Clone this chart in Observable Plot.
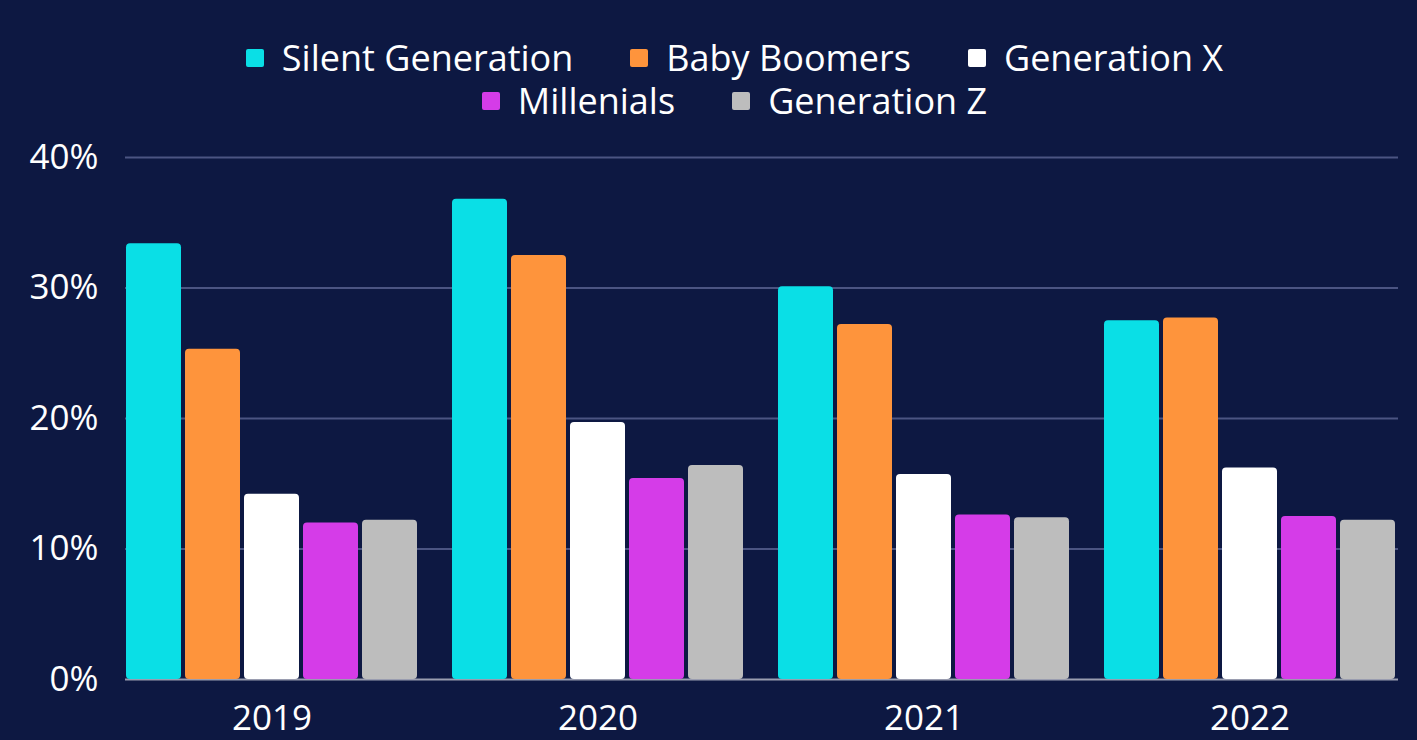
<!DOCTYPE html>
<html><head><meta charset="utf-8">
<script src="https://cdn.jsdelivr.net/npm/d3@7"></script>
<script src="https://cdn.jsdelivr.net/npm/@observablehq/plot@0.6"></script>
<style>
body{margin:0;background:#0d1842;width:1417px;height:740px;overflow:hidden;font-family:"Open Sans",sans-serif;}
#legend{height:130px;box-sizing:border-box;padding-top:36px;padding-left:52px;}
.row{display:flex;justify-content:center;gap:57px;height:43px;align-items:center;}
.item{display:flex;align-items:center;color:#fff;font-size:36px;line-height:43px;}
.sw{width:18px;height:18px;border-radius:2px;margin-right:18px;flex:none;}
#chart svg{display:block;}
</style></head>
<body><div id="legend"></div><div id="chart"></div>
<script>
const years = ["2019", "2020", "2021", "2022"];
const generations = ["Silent Generation", "Baby Boomers", "Generation X", "Millenials", "Generation Z"];
const colors = ["#0adfe6", "#fe943c", "#ffffff", "#d53ce8", "#bdbdbd"];
const silentGeneration = [33.4, 36.8, 30.1, 27.5];
const babyBoomers = [25.3, 32.5, 27.2, 27.7];
const generationX = [14.2, 19.7, 15.7, 16.2];
const millenials = [12.0, 15.4, 12.6, 12.5];
const generationZ = [12.2, 16.4, 12.4, 12.2];
const yTicks = [0, 10, 20, 30, 40];

const series = [silentGeneration, babyBoomers, generationX, millenials, generationZ];
const data = [];
years.forEach((year, i) => generations.forEach((gen, j) => data.push({year, gen, value: series[j][i]})));

// legend
const legendRows = [generations.slice(0, 3), generations.slice(3)];
const legend = document.getElementById("legend");
legendRows.forEach(row => {
  const r = document.createElement("div"); r.className = "row";
  row.forEach(g => {
    const it = document.createElement("div"); it.className = "item";
    const sw = document.createElement("span"); sw.className = "sw";
    sw.style.background = colors[generations.indexOf(g)];
    it.appendChild(sw); it.appendChild(document.createTextNode(g));
    r.appendChild(it);
  });
  legend.appendChild(r);
});

const W = 1417, ML = 124, MR = 20;
const chart = Plot.plot({
  width: W, height: 610, marginTop: 27, marginBottom: 61, marginLeft: ML, marginRight: MR,
  style: {background: "transparent", color: "#fff", fontFamily: "'Open Sans', sans-serif", fontSize: "35px"},
  fx: {domain: years, paddingInner: 0.1, paddingOuter: 0, label: null, axis: null},
  x: {domain: generations, paddingInner: 0.06, paddingOuter: 0, axis: null},
  y: {domain: [0, 40], label: null},
  color: {domain: generations, range: colors},
  marks: [
    Plot.axisY({ticks: yTicks.filter(d => d > 0), tickSize: -(W - ML - MR), tickFormat: () => "", label: null, stroke: "#4b5482", strokeWidth: 2}),
    Plot.axisY({ticks: [0], tickSize: -(W - ML - MR), tickFormat: () => "", label: null, stroke: "#9a9db0", strokeWidth: 2}),
    Plot.barY(data, {fx: "year", x: "gen", y: "value", fill: "gen", rx: 4}),
    Plot.axisY({ticks: yTicks, tickSize: 0, tickPadding: 27, tickFormat: d => d + "%", label: null, fill: "#fff"}),
    Plot.axisFx({anchor: "bottom", tickSize: 0, tickPadding: 26, label: null, fill: "#fff"})
  ]
});
document.getElementById("chart").appendChild(chart);
</script>
</body></html>
